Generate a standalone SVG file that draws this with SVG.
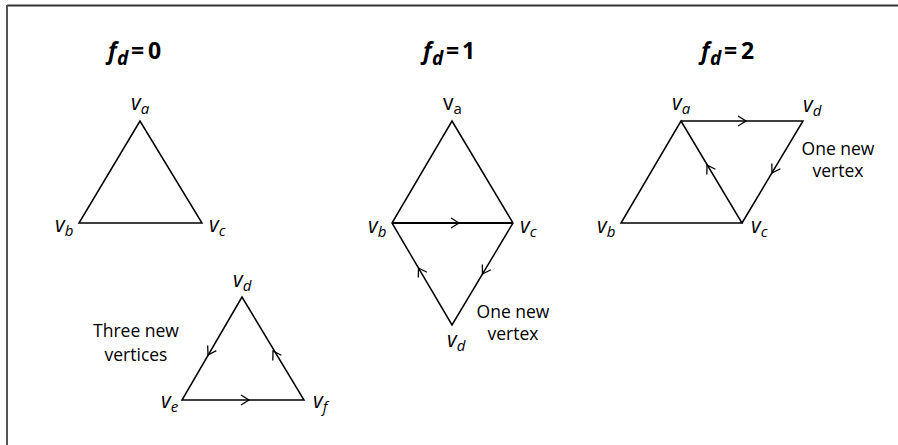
<svg xmlns="http://www.w3.org/2000/svg" width="898" height="445" viewBox="0 0 898 445">
<style>
.edge{fill:none;stroke:#000;stroke-width:1.5;stroke-linejoin:miter}
.arr{fill:none;stroke:#000;stroke-width:1.3}
.v{font-family:"Open Sans","Noto Sans",sans-serif;font-style:italic;font-size:21px;fill:#000}
.vu{font-family:"Open Sans","Noto Sans",sans-serif;font-size:21px;fill:#000}
.sub{font-size:15px}
.t{font-family:"Open Sans","Noto Sans",sans-serif;font-weight:bold;font-size:23px;fill:#000}
.ti{font-style:italic}
.lbl{font-family:"Open Sans","Noto Sans",sans-serif;font-size:17.5px;fill:#000;text-anchor:middle}
</style>
<defs>
<path id="ah" d="M-8,-5 L0,0 L-8,5" class="arr"/>
</defs>
<g id="frame">
<line x1="7" y1="5.5" x2="898" y2="5.5" stroke="#333" stroke-width="2"/>
<line x1="7" y1="5" x2="7" y2="445" stroke="#555" stroke-width="2"/>
</g>
<g id="titles">
<text class="t" y="59"><tspan class="ti" x="108">f</tspan><tspan class="ti" x="117" dy="6" font-size="19">d</tspan><tspan x="131" dy="-6">=</tspan><tspan x="148">0</tspan></text>
<text class="t" y="59"><tspan class="ti" x="423">f</tspan><tspan class="ti" x="432" dy="6" font-size="19">d</tspan><tspan x="446" dy="-6">=</tspan><tspan x="462">1</tspan></text>
<text class="t" y="59"><tspan class="ti" x="701">f</tspan><tspan class="ti" x="710" dy="6" font-size="19">d</tspan><tspan x="724" dy="-6">=</tspan><tspan x="741">2</tspan></text>
</g>
<g id="connectors">
<polygon class="edge" points="140,121 79,223 202,223"/>
<polygon class="edge" points="242,297 182,400 304,400"/>
<use href="#ah" transform="translate(208,355) rotate(120)"/>
<use href="#ah" transform="translate(273,351) rotate(-121)"/>
<use href="#ah" transform="translate(249,400)"/>
<polygon class="edge" points="452,121 513,223 452,325 392,223"/>
<line x1="392" y1="223" x2="513" y2="223" stroke="#000" stroke-width="2.2"/>
<use href="#ah" transform="translate(459,223)"/>
<use href="#ah" transform="translate(482.5,274) rotate(121)"/>
<use href="#ah" transform="translate(418.5,268) rotate(-121)"/>
<polygon class="edge" points="681,121 742,223 621,223"/>
<polyline class="edge" points="681,121 803,121 742,223"/>
<use href="#ah" transform="translate(746,121)"/>
<use href="#ah" transform="translate(772,173) rotate(121)"/>
<use href="#ah" transform="translate(707,165) rotate(-121)"/>
</g>
<g id="n0-va"><text class="v" x="131" y="110">v<tspan class="sub" dy="4">a</tspan></text></g>
<g id="n0-vb"><text class="v" x="55" y="232">v<tspan class="sub" dy="4">b</tspan></text></g>
<g id="n0-vc"><text class="v" x="209" y="232">v<tspan class="sub" dy="4">c</tspan></text></g>
<g id="n0-vd"><text class="v" x="233" y="287">v<tspan class="sub" dy="4">d</tspan></text></g>
<g id="n0-ve"><text class="v" x="161" y="408">v<tspan class="sub" dy="4">e</tspan></text></g>
<g id="n0-vf"><text class="v" x="313" y="408">v<tspan class="sub" dy="4">f</tspan></text></g>
<g id="n0-label"><text class="lbl" x="136" y="337">Three new</text><text class="lbl" x="136" y="361">vertices</text></g>
<g id="n1-va"><text class="vu" x="443" y="110">v<tspan class="sub" dy="4">a</tspan></text></g>
<g id="n1-vb"><text class="v" x="368" y="233">v<tspan class="sub" dy="4">b</tspan></text></g>
<g id="n1-vc"><text class="v" x="520" y="233">v<tspan class="sub" dy="4">c</tspan></text></g>
<g id="n1-vd"><text class="v" x="447" y="347">v<tspan class="sub" dy="4">d</tspan></text></g>
<g id="n1-label"><text class="lbl" x="513" y="318">One new</text><text class="lbl" x="513" y="340">vertex</text></g>
<g id="n2-va"><text class="v" x="672" y="110">v<tspan class="sub" dy="4">a</tspan></text></g>
<g id="n2-vd"><text class="v" x="803" y="112">v<tspan class="sub" dy="4">d</tspan></text></g>
<g id="n2-vb"><text class="v" x="597" y="233">v<tspan class="sub" dy="4">b</tspan></text></g>
<g id="n2-vc"><text class="v" x="751" y="233">v<tspan class="sub" dy="4">c</tspan></text></g>
<g id="n2-label"><text class="lbl" x="838" y="155">One new</text><text class="lbl" x="838" y="177">vertex</text></g>
</svg>
